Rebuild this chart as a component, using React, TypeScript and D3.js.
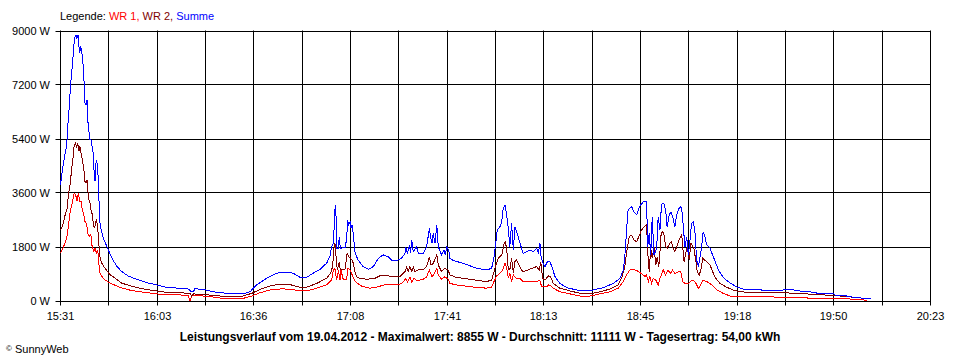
import * as d3 from 'd3';

// minutes after 15:31, watts
const summe: [number, number][] = [
  [0,3860],[0.4,4190],[0.9,4530],[1.5,4860],[2.1,5190],[2.4,5750],[2.9,6420],[3.4,7190],[4.0,7860],[4.5,8530],[4.9,8800],[5.2,8855],[5.5,8750],[5.9,8855],[6.2,8470],[6.4,8250],[6.8,8470],[7.1,8300],[7.5,7970],[7.9,7300],[8.2,6580],[8.6,6530],[8.9,6690],[9.1,6300],[9.3,5750],[9.7,5530],[9.9,5360],[10.2,5360],[10.7,5080],[11.1,4860],[11.3,4190],[11.6,3970],[11.8,4530],[12.1,4690],[12.5,4420],[12.8,3640],[13.2,2640],[13.5,2420],[14.4,2080],[15.5,1810],[17.2,1420],[18.9,1140],[20.5,970],[22.8,810],[26.1,690],[29.5,580],[32.8,510],[35.1,450],[40.1,405],[43.2,380],[43.7,290],[44.6,290],[45.1,390],[47.9,370],[51.3,290],[55.8,240],[61.3,220],[63.6,290],[65.8,520],[69.2,740],[72.6,910],[75.9,950],[78.1,910],[80.4,770],[82.6,770],[84.8,910],[87.1,1040],[89.3,1240],[90.4,1460],[91.0,1790],[91.6,1910],[91.9,2570],[92.2,3180],[92.5,2790],[92.7,1740],[93.2,1740],[93.6,2130],[93.9,1740],[95.5,1770],[96.0,2020],[96.4,2680],[96.7,2520],[97.2,2630],[97.5,2410],[97.9,2520],[98.3,2180],[98.9,1570],[99.4,1460],[99.9,1350],[101.6,1130],[103.3,1040],[105.0,1130],[106.7,1410],[108.3,1520],[110.0,1460],[111.1,1350],[113.4,1350],[114.5,1410],[115.6,1570],[115.9,1790],[116.4,1570],[117.1,1850],[117.5,1570],[117.9,2020],[118.4,1630],[119.5,1790],[120.1,1570],[121.8,1570],[122.9,1790],[123.8,2410],[124.2,2130],[124.7,1910],[125.1,2240],[125.7,1910],[126.3,2520],[126.8,1790],[127.9,1520],[128.7,1680],[129.2,1520],[129.6,1790],[130.3,1680],[130.7,1410],[131.8,1330],[135.2,1240],[139.7,1070],[143.0,1020],[144.7,1070],[145.5,1460],[146.1,1910],[146.6,2350],[147.5,2460],[148.1,2630],[148.6,3070],[149.2,3180],[149.7,2900],[150.3,2410],[150.8,1790],[151.4,2570],[152.0,1680],[152.5,2460],[153.1,2290],[153.6,2130],[154.4,1850],[155.3,1570],[156.5,1630],[157.6,1680],[158.7,1630],[159.8,1740],[160.4,1570],[160.9,1910],[161.3,1460],[161.8,1290],[162.6,1130],[163.4,1290],[164.3,1290],[164.9,1130],[166.0,790],[167.6,570],[169.9,430],[173.2,350],[176.6,320],[178.8,350],[182.2,430],[185.5,570],[187.8,740],[188.9,1020],[189.4,1460],[190.0,2350],[190.5,3020],[191.7,3130],[192.4,2960],[193.4,2850],[193.9,3020],[194.7,3180],[195.6,3290],[196.7,3290],[197.1,1790],[197.6,2240],[198.1,1520],[198.6,2790],[199.2,1520],[200.1,1740],[200.6,2790],[201.2,2350],[201.7,3180],[202.1,3240],[202.5,3240],[203.1,3020],[203.6,2460],[204.3,2850],[204.9,2960],[205.6,2740],[206.2,2460],[206.8,2850],[207.6,3070],[208.2,3130],[208.7,2900],[209.3,2130],[209.6,1790],[210.2,2130],[210.7,1520],[211.3,2020],[211.8,2570],[212.4,2630],[213.0,2240],[213.5,1350],[214.1,1130],[214.6,1410],[215.2,1790],[215.7,2290],[216.3,2130],[216.9,1850],[218.0,1740],[219.1,1460],[220.8,1020],[222.4,770],[224.1,630],[225.8,520],[227.5,430],[229.1,380],[234.8,380],[235.3,350],[242.6,350],[243.1,370],[245.9,380],[246.5,330],[251.5,290],[254.3,240],[259.3,240],[259.9,180],[263.8,150],[267.2,90],[271.9,70],
];

const wr2: [number, number][] = [
  [0,2360],[0.6,2470],[1.2,2690],[1.7,2920],[2.3,3080],[2.6,3470],[3.2,3860],[3.8,4420],[4.3,4810],[4.6,5190],[5.1,5250],[5.4,5080],[5.8,5250],[6.2,4970],[6.5,5140],[6.9,4920],[7.3,4690],[7.8,4420],[8.2,3970],[8.6,3920],[8.9,4030],[9.2,3640],[9.6,3310],[9.9,3250],[10.2,3030],[10.7,2860],[11.1,2470],[11.5,2420],[11.8,2640],[12.1,2690],[12.5,2420],[12.8,1970],[13.3,1420],[13.8,1250],[14.9,1080],[16.6,860],[18.3,750],[20.5,580],[22.8,510],[26.1,420],[29.5,360],[32.8,310],[35.1,280],[43.5,240],[44.0,150],[44.6,220],[50.2,180],[55.8,130],[61.3,150],[64.2,240],[67.0,370],[70.3,480],[73.7,550],[77.0,530],[80.4,440],[82.6,440],[86.0,570],[89.3,740],[90.7,910],[91.3,1130],[91.8,1740],[92.1,1910],[92.5,1460],[92.9,1020],[93.6,1290],[93.9,1020],[95.5,1040],[96.2,1570],[96.7,1460],[97.4,1410],[97.8,1350],[98.3,1240],[98.9,910],[99.4,790],[100.5,740],[102.8,710],[105.5,740],[107.8,850],[109.5,850],[111.1,790],[113.9,790],[115.6,960],[116.2,1110],[116.7,960],[117.3,1130],[117.9,960],[118.4,1110],[119.0,960],[120.1,1020],[121.8,1020],[122.9,1130],[123.8,1460],[124.4,1180],[125.1,1240],[126.3,1520],[126.8,1180],[127.9,960],[129.0,1070],[130.1,1020],[130.7,850],[132.9,770],[137.4,710],[143.0,630],[144.7,680],[145.5,960],[146.1,1180],[147.0,1410],[148.1,1520],[148.9,1910],[149.3,1960],[149.8,1680],[150.3,1020],[150.9,1070],[151.4,1410],[152.0,910],[152.5,1290],[153.1,1350],[153.6,1240],[154.7,1020],[155.3,960],[157.0,1020],[158.1,1070],[159.8,1130],[160.7,1020],[161.2,1290],[161.8,740],[162.6,680],[163.7,820],[164.5,790],[165.4,570],[167.6,410],[171.0,320],[174.3,240],[177.7,220],[181.0,290],[184.4,380],[187.2,520],[188.3,740],[189.4,1130],[190.2,1740],[190.9,2130],[191.7,2180],[192.4,2020],[193.4,1960],[194.1,2130],[195.0,2350],[195.9,2460],[196.7,2520],[197.2,1460],[197.6,960],[198.1,1740],[198.6,1410],[199.2,1790],[199.8,1180],[200.3,1460],[200.8,1130],[201.2,1630],[201.6,2240],[202.1,2290],[202.5,2240],[203.1,1790],[203.6,1740],[204.5,1910],[205.1,1960],[205.6,1740],[206.2,1630],[206.8,1790],[207.6,2020],[208.5,2180],[209.3,1290],[209.8,1570],[210.4,1790],[211.0,1350],[211.6,1910],[212.2,1790],[212.6,1740],[213.2,1350],[213.7,960],[214.4,850],[214.9,1020],[215.6,1410],[216.1,1350],[216.9,1290],[218.0,1180],[219.6,790],[221.3,570],[223.6,440],[225.8,350],[228.0,290],[234.8,260],[242.6,260],[250.4,220],[257.1,180],[261.6,150],[266.0,110],[271.1,60],
];

const wr1: [number, number][] = [
  [0,1580],[0.6,1690],[1.3,1860],[2.1,2080],[2.6,2420],[3.2,2920],[3.8,3190],[4.3,3420],[4.6,3580],[5.1,3520],[5.5,3310],[6.0,3580],[6.4,3310],[6.9,3310],[7.3,3030],[7.8,2860],[8.2,2640],[8.8,2530],[9.1,2250],[9.7,2140],[10.2,2200],[10.5,1860],[10.8,1750],[11.2,1640],[11.6,1750],[12.0,1580],[12.5,1690],[12.8,1310],[13.2,920],[13.8,810],[14.9,690],[16.6,580],[18.3,510],[20.5,420],[23.9,330],[28.4,270],[31.7,230],[35.1,190],[42.9,180],[43.3,0],[43.6,0],[44.0,180],[50.2,130],[54.6,70],[61.3,70],[64.2,150],[67.0,260],[70.3,350],[74.2,390],[77.6,370],[80.4,320],[82.6,320],[86.0,410],[89.3,520],[91.0,680],[91.6,1020],[92.1,1070],[92.7,680],[93.3,1020],[93.8,680],[94.1,1020],[94.9,700],[96.0,710],[96.5,1070],[97.2,1020],[97.7,900],[98.9,630],[101.1,480],[103.9,410],[106.7,460],[109.5,550],[111.1,520],[113.4,520],[114.8,590],[115.9,740],[116.5,620],[117.3,790],[117.9,620],[118.7,740],[119.5,660],[121.8,710],[122.9,790],[123.8,1020],[124.7,790],[125.5,900],[126.3,1070],[126.8,850],[127.9,710],[129.0,790],[130.1,710],[130.7,570],[132.9,520],[137.4,460],[143.0,410],[144.7,450],[145.5,630],[146.4,820],[147.5,910],[148.4,1020],[149.0,1180],[149.2,1240],[149.8,1070],[150.3,740],[150.8,910],[151.4,630],[152.0,850],[152.5,790],[153.1,740],[154.2,740],[155.3,630],[158.7,630],[160.9,660],[161.5,460],[163.2,460],[163.7,520],[164.5,490],[165.4,410],[167.6,290],[171.0,220],[174.3,150],[177.7,150],[181.0,220],[184.4,290],[187.2,410],[188.9,630],[190.0,850],[191.1,1020],[192.2,1040],[193.4,1000],[194.5,930],[195.6,850],[196.2,800],[196.7,850],[197.3,630],[197.8,800],[198.4,570],[198.9,740],[199.8,680],[200.6,520],[201.2,740],[202.3,1020],[203.1,850],[203.9,1020],[204.7,900],[205.4,1020],[206.2,900],[207.4,960],[208.2,960],[208.8,630],[209.6,570],[210.7,570],[211.8,660],[212.4,680],[213.3,570],[214.1,410],[214.9,520],[215.6,680],[216.9,630],[218.6,520],[220.3,350],[222.4,240],[224.7,150],[228.0,130],[239.2,130],[239.8,110],[250.4,110],[250.9,70],[258.2,70],[268.3,40],[270.6,0],
];

const xTickLabels = ['15:31', '16:03', '16:36', '17:08', '17:41', '18:13', '18:45', '19:18', '19:50', '20:23'];
const yTicks = [0, 1800, 3600, 5400, 7200, 9000];
const totalMinutes = 292;
const title = 'Leistungsverlauf vom 19.04.2012 - Maximalwert: 8855 W - Durchschnitt: 11111 W - Tagesertrag: 54,00 kWh';

const series = [
  { name: 'WR 1', color: '#ff0000', data: wr1 },
  { name: 'WR 2', color: '#800000', data: wr2 },
  { name: 'Summe', color: '#0000ff', data: summe },
];

const W = 960, H = 360;
const m = { left: 60.5, right: 930.5, top: 30.5, bottom: 300.5 };
const font = '"Liberation Sans", Arial, sans-serif';

export default function App() {
  const x = d3.scaleLinear().domain([0, totalMinutes]).range([m.left, m.right]);
  const y = d3.scaleLinear().domain([0, 9000]).range([m.bottom, m.top]);
  const line = d3.line<[number, number]>().x(d => x(d[0])).y(d => y(d[1]));

  // 18 vertical grid intervals, every second one labelled
  const vTicks = d3.range(19).map(i => (i * totalMinutes) / 18);

  return (
    <svg width={W} height={H} style={{ position: 'absolute', left: 0, top: 0, background: '#fff' }}
      fontFamily={font} fontSize={11}>
      <rect width={W} height={H} fill="#fff" />
      {/* horizontal grid + y ticks */}
      {yTicks.map(v => (
        <g key={v}>
          <line x1={m.left - 5} x2={m.right} y1={Math.round(y(v)) + 0.5} y2={Math.round(y(v)) + 0.5} stroke="#000" />
          <text x={50} y={y(v) + 4} textAnchor="end">{v} W</text>
        </g>
      ))}
      {/* vertical grid + x ticks */}
      {vTicks.map((t, i) => {
        const px = Math.round(x(t) - 0.5) + 0.5;
        return (
          <g key={i}>
            <line x1={px} x2={px} y1={m.top} y2={m.bottom + 5} stroke="#000" />
            {i % 2 === 0 && (
              <text x={px} y={320} textAnchor="middle">{xTickLabels[i / 2]}</text>
            )}
          </g>
        );
      })}
      {/* series */}
      {series.map(s => (
        <path key={s.name} d={line(s.data) ?? ''} fill="none" stroke={s.color} strokeWidth={1}
          shapeRendering="crispEdges" />
      ))}
      {/* legend */}
      <text x={60} y={20}>
        <tspan fill="#000">Legende: </tspan>
        <tspan fill="#ff0000">WR 1, </tspan>
        <tspan fill="#800000">WR 2, </tspan>
        <tspan fill="#0000ff">Summe</tspan>
      </text>
      {/* title */}
      <text x={480} y={341} textAnchor="middle" fontWeight="bold" fontSize={12}>{title}</text>
      <text x={6} y={353} fontSize={11}>
        <tspan fontSize={8} dy={-2}>©</tspan>
        <tspan dy={2}> SunnyWeb</tspan>
      </text>
    </svg>
  );
}
